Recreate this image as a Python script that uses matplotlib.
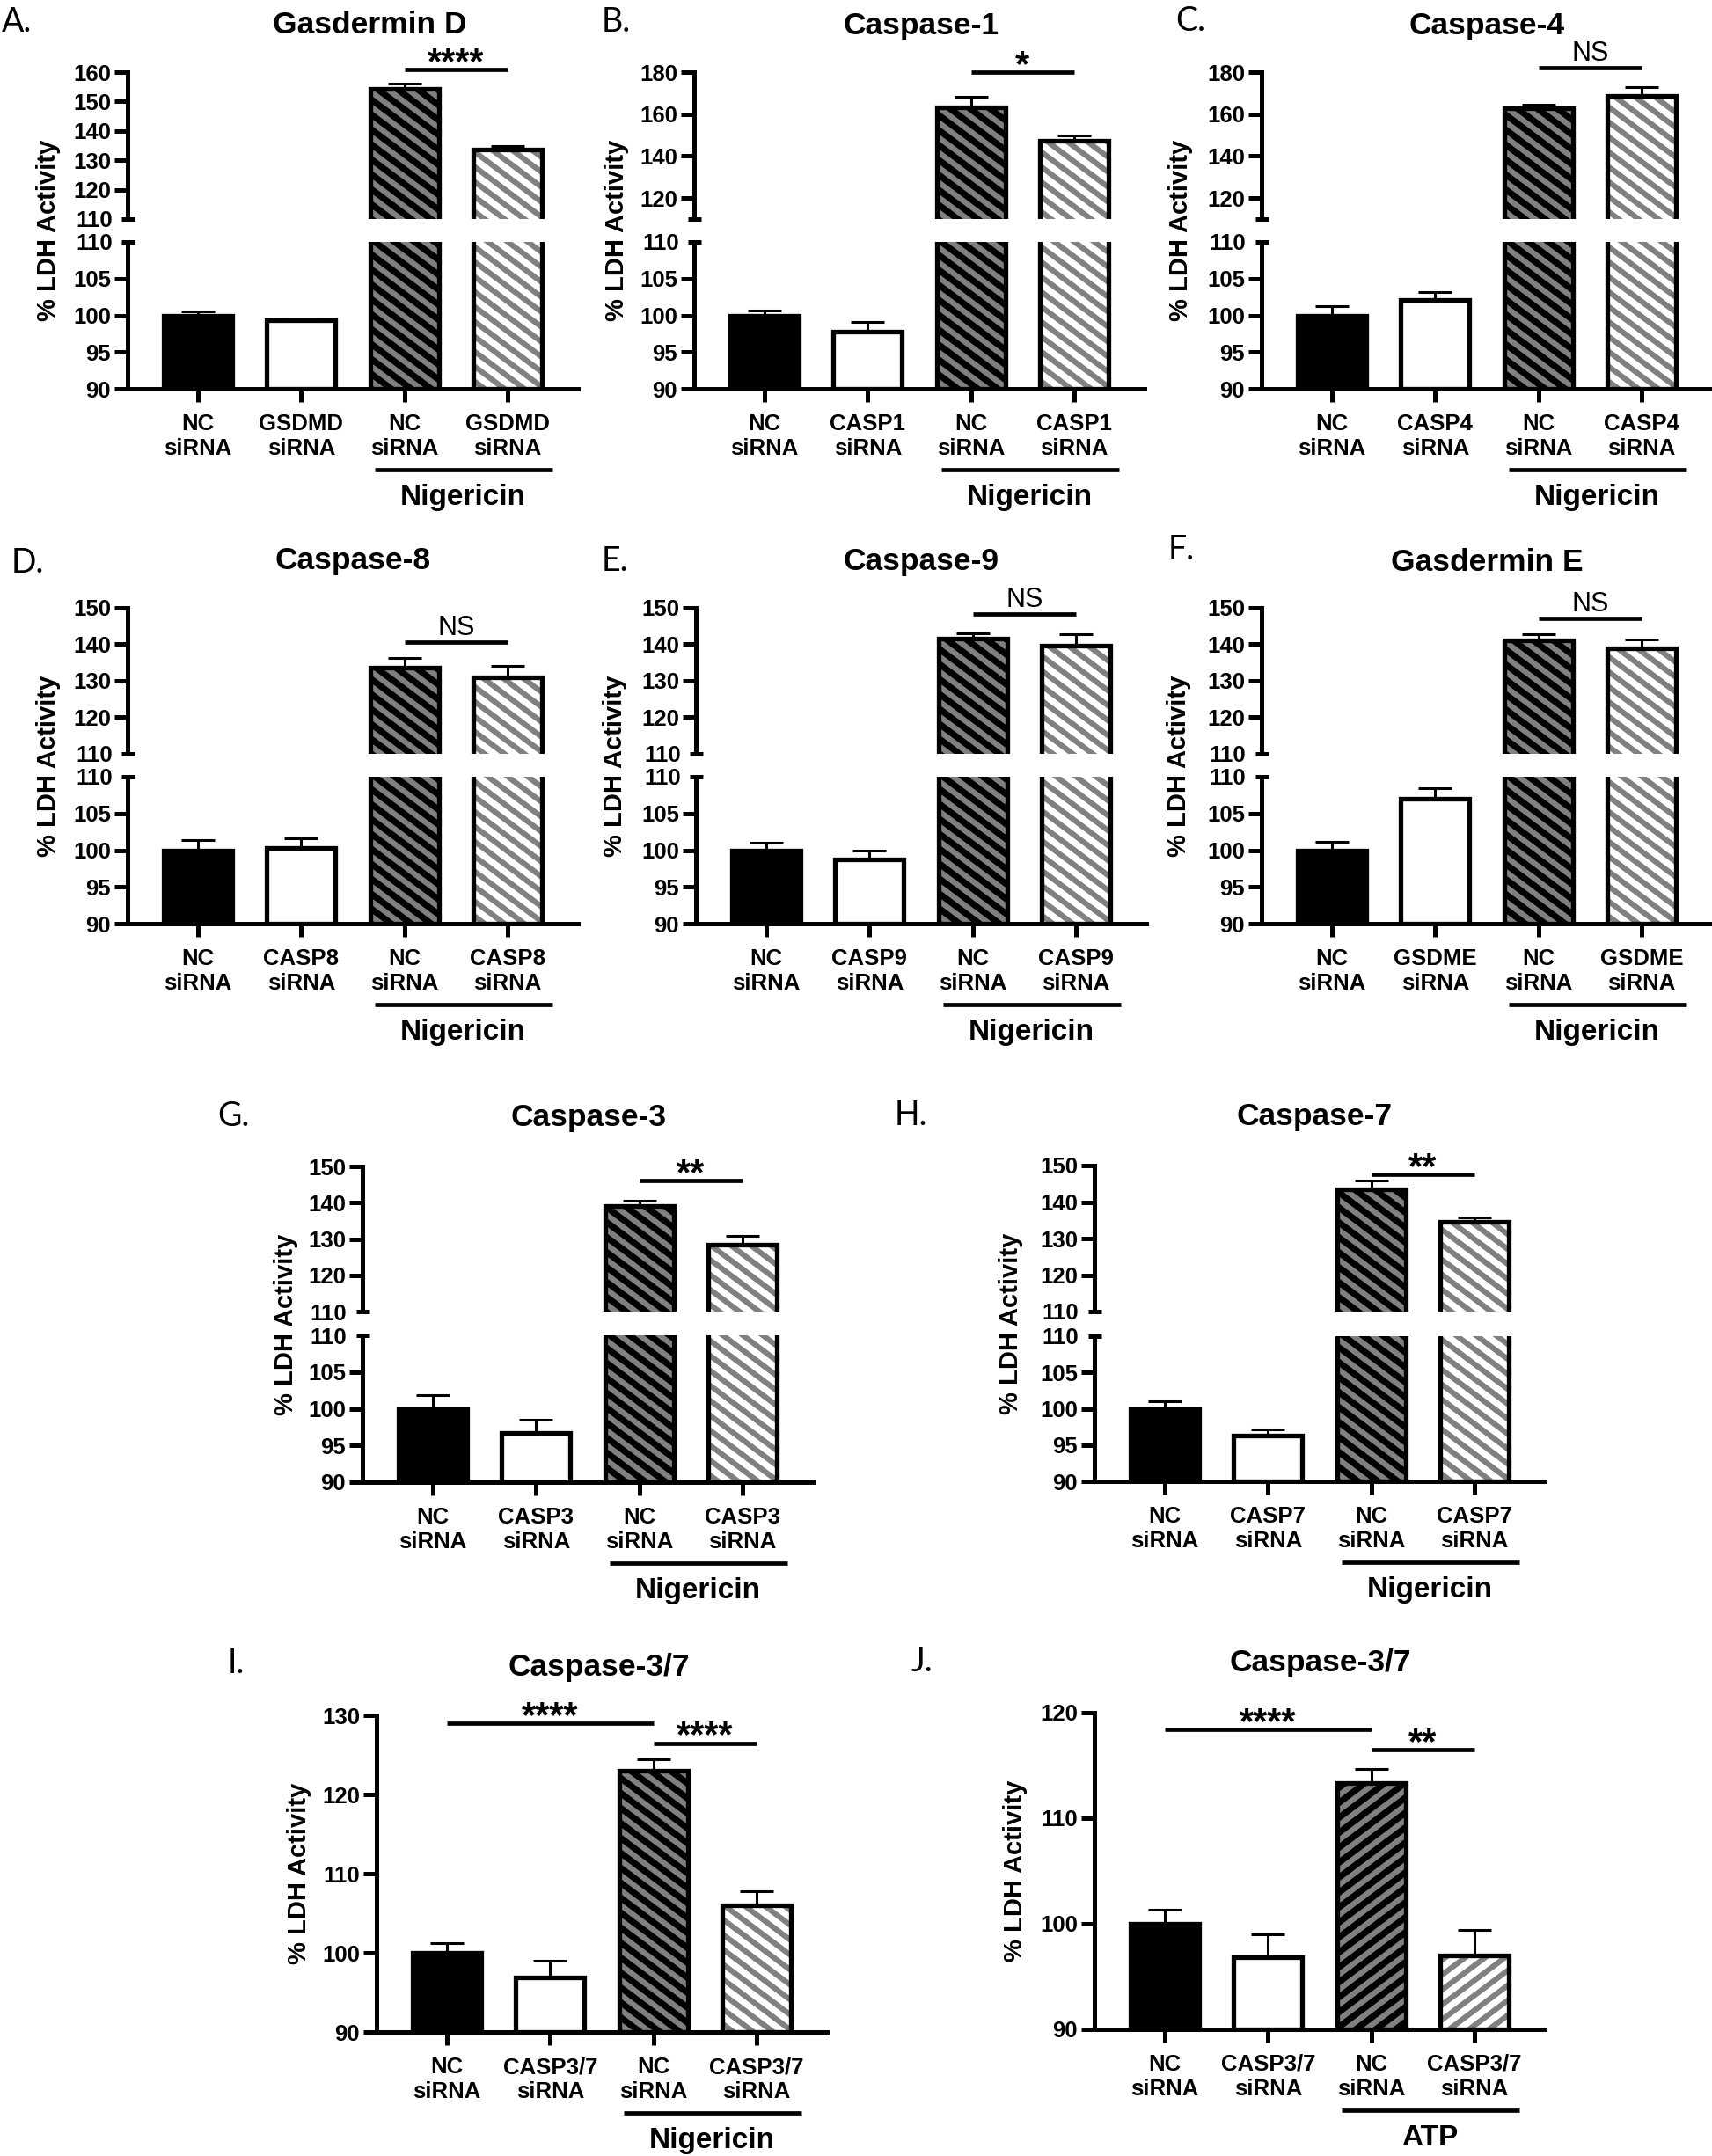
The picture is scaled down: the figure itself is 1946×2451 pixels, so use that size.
import numpy as np
import matplotlib
matplotlib.use("Agg")
import matplotlib.pyplot as plt
import matplotlib.transforms as mtransforms
from matplotlib.collections import LineCollection

W, H, DPI = 1946, 2451, 100
PT = 72 / DPI  # points per pixel

plt.rcParams["font.family"] = ["Liberation Sans", "DejaVu Sans"]
plt.rcParams["font.weight"] = "bold"

# ---- values ----
gsdmd_mean = [100.0, 99.3, 154.4, 133.8]
gsdmd_err = [0.5, 0.2, 1.6, 1.0]
casp1_mean = [100.0, 97.8, 163.3, 147.5]
casp1_err = [0.6, 1.3, 4.9, 2.4]
casp4_mean = [100.0, 102.1, 162.8, 168.5]
casp4_err = [1.2, 1.1, 1.6, 4.4]
casp8_mean = [100.0, 100.3, 133.6, 130.9]
casp8_err = [1.4, 1.3, 2.7, 3.3]
casp9_mean = [100.0, 98.7, 141.5, 139.7]
casp9_err = [1.0, 1.2, 1.5, 3.0]
gsdme_mean = [100.0, 107.0, 141.0, 139.0]
gsdme_err = [1.1, 1.5, 1.7, 2.3]
casp3_mean = [100.0, 96.7, 139.2, 128.5]
casp3_err = [1.8, 1.8, 1.4, 2.3]
casp7_mean = [100.0, 96.3, 143.5, 134.5]
casp7_err = [1.0, 0.8, 2.3, 1.2]
casp37_nig_mean = [100.0, 96.9, 123.0, 106.0]
casp37_nig_err = [1.2, 2.1, 1.4, 1.8]
casp37_atp_mean = [100.0, 96.8, 113.3, 97.0]
casp37_atp_err = [1.3, 2.2, 1.4, 2.4]

lower_ticks = [90, 95, 100, 105]
upper_ticks_160 = [120, 130, 140, 150, 160]
upper_ticks_180 = [120, 140, 160, 180]
upper_ticks_150 = [120, 130, 140, 150]
single_ticks_130 = [90, 100, 110, 120, 130]
single_ticks_120 = [90, 100, 110, 120]


def xlabels(target):
    return ["NC\nsiRNA", target + "\nsiRNA", "NC\nsiRNA", target + "\nsiRNA"]


# letter, title, target, mean, err, upper ticks, upper limit, label 110 on upper,
# significance marks (text, bar i, bar j, y), treatment
break_panels = [
    ("A.", "Gasdermin D", "GSDMD", gsdmd_mean, gsdmd_err, upper_ticks_160, 160, True,
     [("****", 2, 3, 160.9)], "Nigericin"),
    ("B.", "Caspase-1", "CASP1", casp1_mean, casp1_err, upper_ticks_180, 180, False,
     [("*", 2, 3, 180.0)], "Nigericin"),
    ("C.", "Caspase-4", "CASP4", casp4_mean, casp4_err, upper_ticks_180, 180, False,
     [("NS", 2, 3, 182.3)], "Nigericin"),
    ("D.", "Caspase-8", "CASP8", casp8_mean, casp8_err, upper_ticks_150, 150, True,
     [("NS", 2, 3, 140.6)], "Nigericin"),
    ("E.", "Caspase-9", "CASP9", casp9_mean, casp9_err, upper_ticks_150, 150, True,
     [("NS", 2, 3, 148.2)], "Nigericin"),
    ("F.", "Gasdermin E", "GSDME", gsdme_mean, gsdme_err, upper_ticks_150, 150, True,
     [("NS", 2, 3, 147.1)], "Nigericin"),
    ("G.", "Caspase-3", "CASP3", casp3_mean, casp3_err, upper_ticks_150, 150, True,
     [("**", 2, 3, 146.2)], "Nigericin"),
    ("H.", "Caspase-7", "CASP7", casp7_mean, casp7_err, upper_ticks_150, 150, True,
     [("**", 2, 3, 147.5)], "Nigericin"),
]
single_panels = [
    ("I.", "Caspase-3/7", "CASP3/7", casp37_nig_mean, casp37_nig_err, single_ticks_130, 130,
     [("****", 0, 2, 129.0), ("****", 2, 3, 126.5)], "Nigericin", 1),
    ("J.", "Caspase-3/7", "CASP3/7", casp37_atp_mean, casp37_atp_err, single_ticks_120, 120,
     [("****", 0, 2, 118.4), ("**", 2, 3, 116.5)], "ATP", -1),
]

# ---- layout in pixels of the final image ----
# y axis x, (upper top, upper bottom, lower top, lower bottom), ylabel x,
# title (x, baseline), letter (x, baseline)
break_layout = [
    (145, (82, 249, 275, 442), 55, (420, 38), (2, 36)),
    (789, (82, 249, 275, 442), 701, (1047, 39), (684, 36)),
    (1434, (82, 249, 275, 442), 1342, (1690, 39), (1336, 35)),
    (145, (691, 857, 883, 1050), 55, (401, 647), (13, 651)),
    (791, (691, 857, 883, 1050), 699, (1047, 648), (684, 649)),
    (1434, (691, 857, 883, 1050), 1340, (1690, 649), (1328, 636)),
    (412, (1326, 1491, 1518, 1685), 325, (669, 1280), (247, 1280)),
    (1244, (1325, 1491, 1519, 1684), 1149, (1494, 1279), (1017, 1279)),
]
single_layout = [
    (428, (1950, 2310), 340, (681, 1905), (259, 1902)),
    (1244, (1947, 2307), 1154, (1501, 1900), (1036, 1900)),
]

AX_W = 512
XLIM = (-0.68, 3.68)
BAR_W = 0.665
GRAY = "#808080"
EDGE_LW = 3.8
SPINE_LW = 3.6
ERR_LW = 2.2
CAP = 19 * PT
TICK_LEN = 15 * PT
TICK_FS = 18.5
LABEL_FS = 21
TITLE_FS = 25.5
LETTER_FS = 27
TREAT_FS = 24
STRIPE_DV = 17.0      # vertical repeat of the stripes, px
STRIPE_SLOPE = 0.75
STRIPE_LW = 6.3 * PT

fig = plt.figure(figsize=(W / DPI, H / DPI), dpi=DPI)


def rect(left, top, bottom):
    return [left / W, 1 - bottom / H, AX_W / W, (bottom - top) / H]


def add_stripes(ax, bar, direction):
    # diagonal gray stripes inside one bar, clipped to the visible part
    (bx0, by0), (bx1, by1) = ax.transData.transform(
        [(bar.get_x(), bar.get_y()),
         (bar.get_x() + bar.get_width(), bar.get_y() + bar.get_height())])
    ab = ax.bbox
    y0, y1 = max(by0, ab.y0), min(by1, ab.y1)
    if y1 <= y0:
        return
    w = bx1 - bx0
    segs = []
    c = y0 - STRIPE_SLOPE * w - STRIPE_DV
    while c < y1 + STRIPE_SLOPE * w + STRIPE_DV:
        if direction > 0:
            segs.append([(bx0 - 5, c + STRIPE_SLOPE * 5),
                         (bx1 + 5, c - STRIPE_SLOPE * (w + 5))])
        else:
            segs.append([(bx0 - 5, c - STRIPE_SLOPE * 5),
                         (bx1 + 5, c + STRIPE_SLOPE * (w + 5))])
        c += STRIPE_DV
    lc = LineCollection(segs, colors=GRAY, linewidths=STRIPE_LW,
                        transform=mtransforms.IdentityTransform(),
                        zorder=1.5, capstyle="butt")
    ax.add_collection(lc, autolim=False)
    lc.set_clip_box(mtransforms.Bbox([[bx0, y0], [bx1, y1]]))


def draw_bars(ax, mean, err, direction):
    x = np.arange(len(mean))
    base = 90
    h = np.array(mean) - base
    faces = ["black", "white", "black", "white"]
    bars = ax.bar(x, h, bottom=base, width=BAR_W, color=faces,
                  linewidth=0, zorder=1)
    for k in (2, 3):
        add_stripes(ax, bars[k], direction)
    ax.bar(x, h, bottom=base, width=BAR_W, color="none",
           edgecolor="black", linewidth=EDGE_LW, zorder=2)
    ax.errorbar(x, mean, yerr=[np.zeros(len(err)), err], fmt="none",
                ecolor="black", elinewidth=ERR_LW, capsize=CAP,
                capthick=ERR_LW, zorder=3)


def base_style(ax):
    for s in ("top", "right"):
        ax.spines[s].set_visible(False)
    for s in ("left", "bottom"):
        ax.spines[s].set_linewidth(SPINE_LW)
    ax.tick_params(which="major", length=TICK_LEN, width=SPINE_LW,
                   labelsize=TICK_FS, direction="out")
    ax.tick_params(axis="y", which="major", pad=4 * PT)
    ax.tick_params(axis="x", which="major", pad=13 * PT)
    ax.set_xlim(*XLIM)


def bold_ticks(ax):
    for lbl in (ax.get_xticklabels() + ax.get_yticklabels()
                + ax.get_yticklabels(minor=True)):
        lbl.set_fontweight("bold")


def break_tick(ax, label):
    ax.set_yticks([110], labels=["110" if label else ""], minor=True)
    ax.tick_params(axis="y", which="minor", direction="inout",
                   length=TICK_LEN, width=SPINE_LW, labelsize=TICK_FS,
                   pad=10 * PT)


def add_sig(ax, marks):
    for text, i, j, y in marks:
        ax.plot([i, j], [y, y], color="black", lw=3.4, clip_on=False,
                solid_capstyle="butt")
        if text == "NS":
            ax.annotate(text, xy=((i + j) / 2, y), xytext=(0, 8 * PT),
                        textcoords="offset points", ha="center",
                        va="baseline", fontsize=22, fontweight="normal",
                        annotation_clip=False)
        else:
            ax.annotate(text, xy=((i + j) / 2, y), xytext=(0, -4 * PT),
                        textcoords="offset points", ha="center",
                        va="baseline", fontsize=30, fontweight="bold",
                        annotation_clip=False)


def add_treatment(ax, name, height_px):
    tr = mtransforms.blended_transform_factory(ax.transData, ax.transAxes)
    ax.plot([1.71, 3.43], [-92 / height_px] * 2, color="black", lw=3.4,
            transform=tr, clip_on=False, solid_capstyle="butt")
    ax.text(2.57, -132 / height_px, name, transform=tr, ha="center",
            va="baseline", fontsize=TREAT_FS, fontweight="bold")


def add_headers(title, title_pos, letter, letter_pos, ylab_x, ymid):
    fig.text(title_pos[0] / W, 1 - title_pos[1] / H, title, ha="center",
             va="baseline", fontsize=TITLE_FS, fontweight="bold")
    fig.text(letter_pos[0] / W, 1 - letter_pos[1] / H, letter, ha="left",
             va="baseline", fontsize=LETTER_FS, fontweight="normal",
             family=["Lato", "DejaVu Sans"])
    fig.text(ylab_x / W, 1 - ymid / H, "% LDH Activity", rotation=90,
             ha="center", va="center", fontsize=LABEL_FS, fontweight="bold")


for spec, lay in zip(break_panels, break_layout):
    letter, title, target, mean, err, up_ticks, up_top, lab110, marks, treat = spec
    left, (ut, ub, lt, lb), ylab_x, title_pos, letter_pos = lay

    ax_up = fig.add_axes(rect(left, ut, ub))
    ax_lo = fig.add_axes(rect(left, lt, lb))
    ax_up.set_ylim(110, up_top)
    ax_lo.set_ylim(90, 110)
    for ax in (ax_up, ax_lo):
        base_style(ax)
        draw_bars(ax, mean, err, 1)

    ax_up.spines["bottom"].set_visible(False)
    ax_up.set_xticks([])
    ax_up.set_yticks(up_ticks)
    break_tick(ax_up, lab110)
    add_sig(ax_up, marks)

    ax_lo.set_yticks(lower_ticks)
    break_tick(ax_lo, True)
    ax_lo.set_xticks(range(4), labels=xlabels(target))
    add_treatment(ax_lo, treat, lb - lt)
    bold_ticks(ax_up)
    bold_ticks(ax_lo)

    add_headers(title, title_pos, letter, letter_pos, ylab_x, (ut + lb) / 2)

for spec, lay in zip(single_panels, single_layout):
    letter, title, target, mean, err, ticks, top, marks, treat, direction = spec
    left, (t, b), ylab_x, title_pos, letter_pos = lay

    ax = fig.add_axes(rect(left, t, b))
    ax.set_ylim(90, top)
    base_style(ax)
    draw_bars(ax, mean, err, direction)
    ax.set_yticks(ticks)
    ax.set_xticks(range(4), labels=xlabels(target))
    add_sig(ax, marks)
    add_treatment(ax, treat, b - t)
    bold_ticks(ax)

    add_headers(title, title_pos, letter, letter_pos, ylab_x, (t + b) / 2)

fig.savefig("out.png", dpi=DPI, facecolor="white")
